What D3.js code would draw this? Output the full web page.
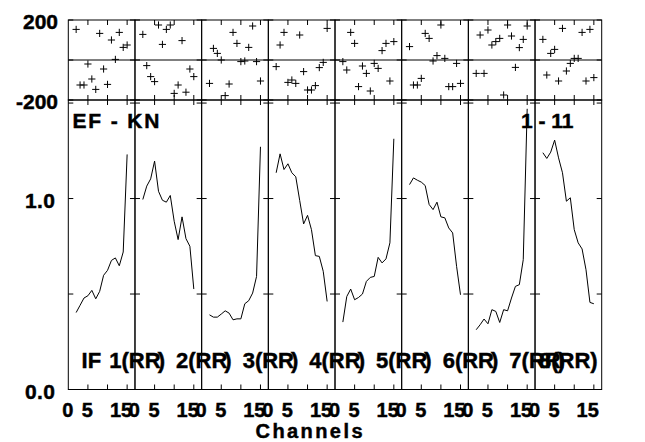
<!DOCTYPE html>
<html><head><meta charset="utf-8">
<script src="https://cdn.jsdelivr.net/npm/d3@7/dist/d3.min.js"></script>
<style>
html,body{margin:0;padding:0;background:#fff;}
text{font-family:"Liberation Sans",Arial,Helvetica,sans-serif;font-weight:bold;fill:#000;stroke:#000;stroke-width:0.45px;}
</style>
</head><body>
<svg id="chart" width="645" height="442"></svg>
<script>
// ---------------- data ----------------
const channels = [2,3,4,5,6,7,8,9,10,11,12,13,14,15];
const ifNames = ["1(RR)","2(RR)","3(RR)","4(RR)","5(RR)","6(RR)","7(RR)","8(RR)"];
const baselineLabel = "EF - KN";
const timeLabel = "1 - 11";
const xTitle = "Channels";
const xTickValues = [0,5,10,15];
const xTickLabels = ["0","5","","15"];
const ampTickValues = [0.5,1.0,1.5];
const ampLabelValues = [0.0,1.0];
const ampLabelTexts = ["0.0","1.0"];
const phaseTickValues = [-200,0,200];
const phaseLabelValues = [200,-200];
const phaseLabelTexts = ["200","-200"];

const amp1 = [0.403,0.441,0.479,0.491,0.519,0.475,0.514,0.598,0.624,0.676,0.689,0.648,0.720,1.231];
const amp2 = [0.995,1.065,1.103,1.196,1.038,0.991,0.981,1.016,0.881,0.785,0.904,0.790,0.750,0.526];
const amp3 = [0.391,0.379,0.379,0.395,0.412,0.400,0.365,0.370,0.370,0.449,0.465,0.505,0.592,1.271];
const amp4 = [1.135,1.234,1.152,1.182,1.135,1.114,0.990,0.867,0.912,0.837,0.701,0.697,0.619,0.461];
const amp5 = [0.353,0.487,0.526,0.470,0.482,0.500,0.566,0.587,0.592,0.692,0.663,0.684,0.768,1.313];
const amp6 = [1.073,1.108,1.096,1.086,1.068,0.969,0.942,0.981,0.904,0.899,0.846,0.820,0.645,0.496];
const amp7 = [0.313,0.339,0.369,0.344,0.418,0.409,0.351,0.418,0.412,0.479,0.540,0.549,0.680,1.470];
const amp8 = [1.240,1.210,1.243,1.306,1.213,1.135,0.986,1.004,0.837,0.768,0.736,0.627,0.456,0.449];

const phase1 = [153,-125,-125,-20,-95,-147,133,-45,-122,100,3,138,63,75];
const phase2 = [128,-28,-83,-108,175,78,153,175,-167,-125,97,-161,-45,-83];
const phase3 = [-117,58,33,0,-178,-120,138,83,-8,-5,63,170,-8,-105];
const phase4 = [-33,75,138,-112,-100,-117,125,-58,-150,-150,-128,-38,-12,158];
const phase5 = [-8,-50,138,83,-133,-30,-67,-155,-17,-42,47,83,-105,92];
const phase6 = [67,-125,-125,-92,133,108,-5,22,175,8,-133,-133,-17,-117];
const phase7 = [-67,125,-67,150,75,92,108,-175,175,120,-37,62,103,170];
const phase8 = [103,-75,33,53,-105,158,-55,-17,8,8,138,-105,153,-88];

const amps = [amp1,amp2,amp3,amp4,amp5,amp6,amp7,amp8];
const phases = [phase1,phase2,phase3,phase4,phase5,phase6,phase7,phase8];

// ---------------- layout ----------------
const plotLeft = 68.3, plotRight = 601.7;
const phaseTop = 20, phaseBottom = 100, ampBottom = 389.5;
const nPanels = ifNames.length;
const panelW = (plotRight - plotLeft) / nPanels;
const tickLen = 5;
const fontSize = 21;

const svg = d3.select("#chart");
const yAmp = d3.scaleLinear().domain([0, 1.516]).range([ampBottom, phaseBottom]);
const yPh = d3.scaleLinear().domain([-200, 200]).range([phaseBottom, phaseTop]);
const panelScale = d3.scaleBand().domain(d3.range(nPanels)).range([plotLeft, plotRight]).padding(0);

const g = svg.append("g");

for (let p = 0; p < nPanels; p++) {
  const x0 = panelScale(p);
  const x = d3.scaleLinear().domain([0, 17]).range([x0, x0 + panelW]);
  const pg = g.append("g");

  // amplitude line
  const line = d3.line().x((d,i) => x(channels[i])).y(d => yAmp(d));
  pg.append("path").datum(amps[p]).attr("d", line)
    .attr("fill","none").attr("stroke","#000").attr("stroke-width",1);

  // phase markers
  const cs = 3.6;
  pg.selectAll("path.ph").data(phases[p]).join("path").attr("class","ph")
    .attr("d",(d,i)=>{const cx=x(channels[i]), cy=yPh(d);
      return `M${cx-cs},${cy}H${cx+cs}M${cx},${cy-cs}V${cy+cs}`;})
    .attr("stroke","#000").attr("stroke-width",1).attr("fill","none");

  // frames
  pg.append("rect").attr("x",x0).attr("y",phaseTop).attr("width",panelW).attr("height",phaseBottom-phaseTop)
    .attr("fill","none").attr("stroke","#000").attr("stroke-width",1);
  pg.append("rect").attr("x",x0).attr("y",phaseBottom).attr("width",panelW).attr("height",ampBottom-phaseBottom)
    .attr("fill","none").attr("stroke","#000").attr("stroke-width",1);
  // zero phase line
  pg.append("line").attr("x1",x0).attr("x2",x0+panelW).attr("y1",yPh(0)).attr("y2",yPh(0))
    .attr("stroke","#000").attr("stroke-width",1);

  // x ticks (inward) on all horizontal edges
  const xt = xTickValues.filter(v => v > 0);
  const edges = [[phaseTop, 1],[phaseBottom,-1],[phaseBottom,1],[ampBottom,-1]];
  edges.forEach(([yy,dir]) => {
    pg.selectAll(null).data(xt).join("line")
      .attr("x1",d=>x(d)).attr("x2",d=>x(d)).attr("y1",yy).attr("y2",yy+dir*(tickLen))
      .attr("stroke","#000").attr("stroke-width",1);
  });
  // y ticks (inward) on both sides
  [[x0,1],[x0+panelW,-1]].forEach(([xx,dir]) => {
    pg.selectAll(null).data(ampTickValues).join("line")
      .attr("x1",xx).attr("x2",xx+dir*tickLen).attr("y1",d=>yAmp(d)).attr("y2",d=>yAmp(d))
      .attr("stroke","#000").attr("stroke-width",1);
    pg.selectAll(null).data(phaseTickValues).join("line")
      .attr("x1",xx).attr("x2",xx+dir*tickLen).attr("y1",d=>yPh(d)).attr("y2",d=>yPh(d))
      .attr("stroke","#000").attr("stroke-width",1);
  });

  // x tick labels
  pg.selectAll("text.xl").data(xTickValues).join("text").attr("class","xl")
    .attr("x",d=>x(d)+5).attr("y",416.5).attr("text-anchor","end")
    .attr("font-size",fontSize-1).text((d,i)=>xTickLabels[i]);

  // IF label
  const last = p === nPanels - 1;
  const t = pg.append("text").attr("y",368).attr("font-size",fontSize+1);
  if (last) {
    t.attr("x", x0 + panelW - 4).attr("text-anchor","end").text(ifNames[p]);
  } else {
    const body = ifNames[p].slice(0, -1), close = ifNames[p].slice(-1);
    t.attr("x", x0 + 41);
    t.append("tspan").text(body);
    t.append("tspan").attr("dx",-3).text(close);
  }
}

// "IF" prefix
g.append("text").attr("x", panelScale(0) + 13.3).attr("y",368).attr("font-size",fontSize+1).text("IF");

// y labels
g.selectAll("text.pl").data(phaseLabelValues).join("text").attr("class","pl")
  .attr("x",58).attr("y",d=>yPh(d)+8.5).attr("text-anchor","end").attr("font-size",fontSize)
  .text((d,i)=>phaseLabelTexts[i]);
g.selectAll("text.al").data(ampLabelValues).join("text").attr("class","al")
  .attr("x",55).attr("y",d=>yAmp(d)+9).attr("text-anchor","end").attr("font-size",fontSize)
  .attr("textLength",30).attr("lengthAdjust","spacing")
  .text((d,i)=>ampLabelTexts[i]);

// annotations
g.append("text").attr("x",72.5).attr("y",128).attr("font-size",fontSize)
  .attr("textLength",87).attr("lengthAdjust","spacing").text(baselineLabel);
g.append("text").attr("x",573.5).attr("y",128).attr("font-size",fontSize)
  .attr("text-anchor","end").text(timeLabel);
g.append("text").attr("x",255.5).attr("y",438).attr("font-size",fontSize-1)
  .attr("textLength",107).attr("lengthAdjust","spacing").text(xTitle);
</script>
</body></html>
